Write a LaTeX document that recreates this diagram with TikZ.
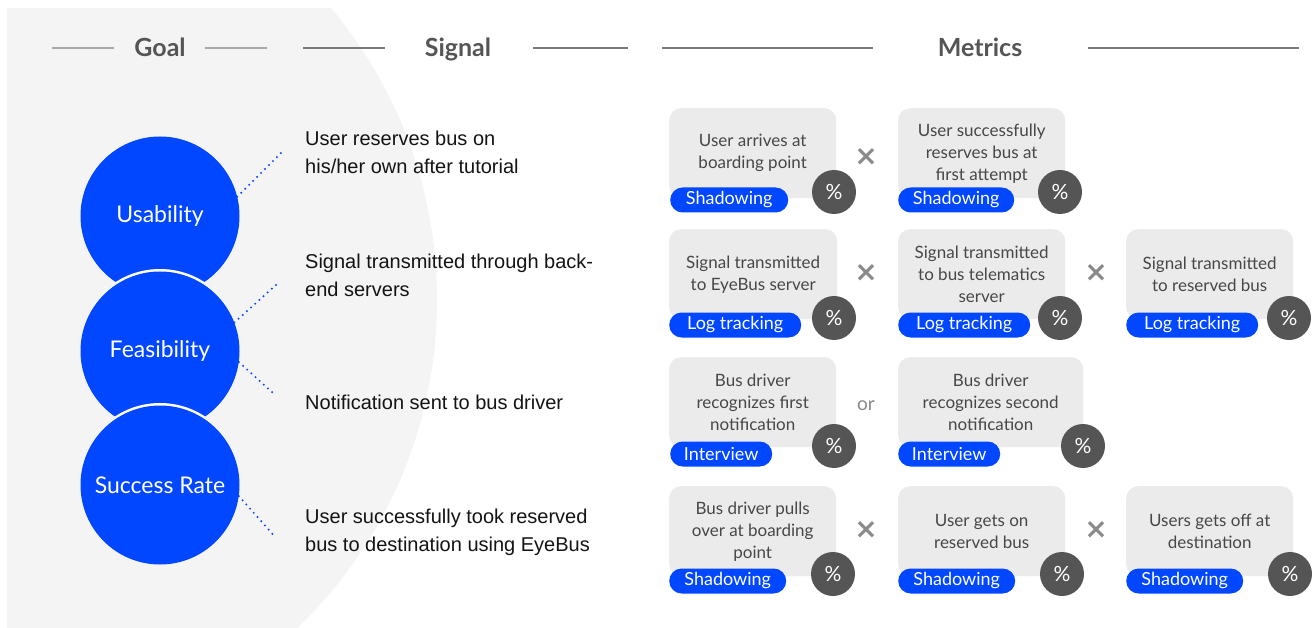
\documentclass[tikz,border=0pt]{standalone}
\usepackage{fontspec}
\setmainfont{Liberation Sans}
\newfontfamily\avenir{Lato}
\newfontfamily\symfont{DejaVu Sans}
\definecolor{eyeblue}{HTML}{0047FF}
\definecolor{bggrey}{HTML}{F4F4F4}
\definecolor{cardgrey}{HTML}{EBEBEB}
\definecolor{pctgrey}{HTML}{555555}
\definecolor{opgrey}{HTML}{8A8A8A}
\definecolor{titlegrey}{HTML}{555555}
\tikzset{
  hdrline/.style={draw=#1, line width=2pt},
  hdrtitle/.style={anchor=base, text=titlegrey, inner sep=0pt,
    font=\avenir\bfseries\fontsize{25}{30}\selectfont},
  goal/.style={circle, fill=eyeblue, minimum size=159pt, inner sep=0pt,
    text=white, font=\avenir\fontsize{23}{27}\selectfont},
  signaltext/.style={anchor=west, align=left, inner sep=0pt, text=black!92,
    font=\fontsize{20}{28}\selectfont},
  dotconn/.style={draw=eyeblue, line width=2.2pt, line cap=round,
    dash pattern=on 0pt off 5.6pt},
  card/.style={anchor=north west, rounded corners=12pt, fill=cardgrey,
    minimum height=90pt, minimum width=#1, inner sep=0pt, align=center,
    text=black!72, font=\avenir\fontsize{17}{22}\selectfont},
  tag/.style={anchor=west, rounded corners=12.5pt, fill=eyeblue,
    minimum height=25pt, minimum width=#1, inner sep=0pt, text=white,
    font=\avenir\fontsize{18}{20}\selectfont},
  pct/.style={circle, fill=pctgrey, minimum size=44pt, inner sep=0pt,
    text=white, font=\avenir\fontsize{21}{22}\selectfont},
  times/.style={text=opgrey, inner sep=0pt, font=\symfont\bfseries\fontsize{28}{28}\selectfont},
  ortext/.style={text=opgrey, inner sep=0pt, font=\avenir\fontsize{19}{22}\selectfont}
}
\begin{document}
\begin{tikzpicture}[x=1pt, y=-1pt]
\useasboundingbox (0,0) rectangle (1314,628);
\fill[white] (0,0) rectangle (1314,628);

% soft grey backdrop behind the goal column
\begin{scope}
  \clip (7,9) rectangle (1314,628);
  \fill[bggrey] (-18,300) circle (455pt);
\end{scope}

% column headings
\draw[hdrline=black!34] (52,48) -- (114,48);
\draw[hdrline=black!34] (205,48) -- (267,48);
\node[hdrtitle] (hgoal) at (160,57) {Goal};
\draw[hdrline=black!52] (303,48) -- (385,48);
\draw[hdrline=black!52] (533,48) -- (628,48);
\node[hdrtitle] (hsignal) at (458,57) {Signal};
\draw[hdrline=black!52] (662,48) -- (873,48);
\draw[hdrline=black!52] (1088,48) -- (1299,48);
\node[hdrtitle] (hmetrics) at (980,57) {Metrics};

% goals; each lower circle is cut out of the one above by a thin white gap
\node[goal] (usab) at (160,216) {Usability};
\begin{scope}
  \clip (160,216) circle (80pt);
  \fill[white] (160,351) circle (82pt);
\end{scope}
\node[goal] (feas) at (160,351) {Feasibility};
\begin{scope}
  \clip (160,351) circle (80pt);
  \fill[white] (160,485) circle (82pt);
\end{scope}
\node[goal] (succ) at (160,485) {Success Rate};

% signals
\node[signaltext] (s1) at (305,152) {User reserves bus on\\his/her own after tutorial};
\node[signaltext] (s2) at (305,275) {Signal transmitted through back-\\end servers};
\node[signaltext] (s3) at (305,402) {Notification sent to bus driver};
\node[signaltext] (s4) at (305,532) {User successfully took reserved\\bus to destination using EyeBus};

\coordinate (e1) at (281,153);
\coordinate (e2) at (277,284);
\coordinate (e3) at (273,393);
\coordinate (e4) at (276,538);
\draw[dotconn] (usab.14) -- (e1);
\draw[dotconn] (feas.21) -- (e2);
\draw[dotconn] (feas.-8) -- (e3);
\draw[dotconn] (succ.-8) -- (e4);

% metrics, row 1
\node[card=167pt] (a1) at (669,108) {User arrives at\\boarding point};
\node[card=167pt] (a2) at (898,108) {User successfully\\reserves bus at\\first attempt};
\node[tag=118pt] (ta1) at (670,200) {Shadowing};
\node[tag=116pt] (ta2) at (898,200) {Shadowing};
\node[pct] (pa1) at (834,192) {\%};
\node[pct] (pa2) at (1060,192) {\%};
\node[times] (xa1) at (866,157) {×};

% metrics, row 2
\node[card=168pt] (b1) at (669,229) {Signal transmitted\\to EyeBus server};
\node[card=167pt] (b2) at (898,229) {Signal transmitted\\to bus telematics\\server};
\node[card=167pt] (b3) at (1126,229) {Signal transmitted\\to reserved bus};
\node[tag=132pt] (tb1) at (669,325) {Log tracking};
\node[tag=132pt] (tb2) at (898,325) {Log tracking};
\node[tag=132pt] (tb3) at (1126,325) {Log tracking};
\node[pct] (pb1) at (834,318) {\%};
\node[pct] (pb2) at (1060,318) {\%};
\node[pct] (pb3) at (1289,318) {\%};
\node[times] (xb1) at (866,273) {×};
\node[times] (xb2) at (1096,273) {×};

% metrics, row 3
\node[card=167pt] (c1) at (669,357) {Bus driver\\recognizes first\\notification};
\node[card=185pt] (c2) at (898,357) {Bus driver\\recognizes second\\notification};
\node[tag=102pt] (tc1) at (670,454) {Interview};
\node[tag=102pt] (tc2) at (898,454) {Interview};
\node[pct] (pc1) at (834,446) {\%};
\node[pct] (pc2) at (1083,446) {\%};
\node[ortext] (oc1) at (866,406) {or};

% metrics, row 4
\node[card=167pt] (d1) at (669,486) {Bus driver pulls\\over at boarding\\point};
\node[card=167pt] (d2) at (898,486) {User gets on\\reserved bus};
\node[card=167pt] (d3) at (1126,486) {Users gets off at\\destination};
\node[tag=117pt] (td1) at (669,581) {Shadowing};
\node[tag=117pt] (td2) at (898,581) {Shadowing};
\node[tag=117pt] (td3) at (1126,581) {Shadowing};
\node[pct] (pd1) at (833,574) {\%};
\node[pct] (pd2) at (1062,574) {\%};
\node[pct] (pd3) at (1290,574) {\%};
\node[times] (xd1) at (866,530) {×};
\node[times] (xd2) at (1096,530) {×};
\end{tikzpicture}
\end{document}
